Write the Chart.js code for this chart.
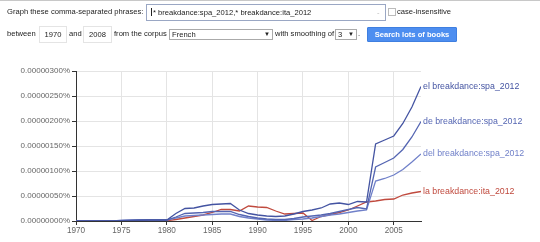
<!DOCTYPE html>
<html>
<head>
<meta charset="utf-8">
<script src="https://cdn.jsdelivr.net/npm/chart.js@4/dist/chart.umd.min.js"></script>
<style>
  html,body{margin:0;padding:0;background:#fff;}
  body{width:540px;height:242px;position:relative;overflow:hidden;font-family:"Liberation Sans",Arial,sans-serif;color:#222;}
  #wrap{position:absolute;left:0;top:0;width:540px;height:242px;}
  .t{position:absolute;font-size:7.6px;line-height:10px;white-space:nowrap;color:#222;}
  .box{position:absolute;border:1px solid #c8c8c8;background:#fff;box-sizing:border-box;font-size:7.6px;white-space:nowrap;}
  #topline{position:absolute;left:0;top:0;width:540px;height:1px;background:#c8c8c8;}
</style>
</head>
<body>
<div id="wrap"><canvas id="c" width="540" height="242"></canvas></div>
<div id="topline"></div>
<div class="t" style="left:7px;top:7px;">Graph these comma-separated phrases:</div>
<div class="box" style="left:146px;top:4px;width:240px;height:17px;border-color:#9aa7c4;line-height:15px;padding-left:4px;"><span style="display:inline-block;width:1px;height:8px;background:#222;vertical-align:-1px;margin-right:1px;"></span>* breakdance:spa_2012,* breakdance:ita_2012<span style="position:absolute;left:230px;top:0;color:#bbb;">-</span></div>
<div class="box" style="left:388px;top:8px;width:8px;height:8px;border-color:#bbb;"></div>
<div class="t" style="left:397px;top:7px;">case-insensitive</div>

<div class="t" style="left:7px;top:29px;">between</div>
<div class="box" style="left:39px;top:26px;width:28px;height:17px;border-color:#e4e4e4;line-height:15px;text-align:center;">1970</div>
<div class="t" style="left:69px;top:29px;">and</div>
<div class="box" style="left:83px;top:26px;width:29px;height:17px;border-color:#e4e4e4;line-height:15px;text-align:center;">2008</div>
<div class="t" style="left:114px;top:29px;">from the corpus</div>
<div class="box" style="left:169px;top:29px;width:104px;height:11px;border-color:#aaa;line-height:9px;padding-left:2px;">French<span style="position:absolute;left:94px;top:0;font-size:6px;">&#9660;</span></div>
<div class="t" style="left:275px;top:29px;">with smoothing of</div>
<div class="box" style="left:335px;top:29px;width:22px;height:11px;border-color:#aaa;line-height:9px;padding-left:2px;">3<span style="position:absolute;left:12px;top:0;font-size:6px;">&#9660;</span></div>
<div class="t" style="left:358px;top:29px;">.</div>
<div style="position:absolute;left:367px;top:27px;width:90px;height:15px;background:#4d8ef0;border:1px solid #3f7fe0;box-sizing:border-box;border-radius:1px;color:#fff;font-weight:bold;font-size:7.6px;line-height:13px;text-align:center;">Search lots of books</div>

<script>
// Data (values in units of 1e-8 %)
const years = [1970,1971,1972,1973,1974,1975,1976,1977,1978,1979,1980,1981,1982,1983,1984,1985,1986,1987,1988,1989,1990,1991,1992,1993,1994,1995,1996,1997,1998,1999,2000,2001,2002,2003,2004,2005,2006,2007,2008];
const seriesNames = ["el breakdance:spa_2012","de breakdance:spa_2012","del breakdance:spa_2012","la breakdance:ita_2012"];
const elValues  = [0,0,0,0,0,0.5,1,1.5,2,2,2,15,25,26,30,33,34,35,22,15,12,10,9,10,14,19,22,26,34,36,33,39,38,154,162,170,195,228,269];
const deValues  = [0,0,0,0,0,1,1.5,2,2,2,2,8,15,16,17,19,19,19,13,9,6,4,3,3,5,8,10,12,15,19,23,27,24,108,117,126,143,168,199];
const delValues = [0,0,0,0,0,1,1.5,2,2,2,2,6,10,11,12,13,14,14,9,6,4,2,1,1,3,4,6,9,12,14,17,20,22,80,85,92,103,118,134];
const laValues  = [0,0,0,0,0,0,0,0.5,0.5,0.5,0.5,3,6,9,12,17,23,23,20,30,28,27,20,14,15,16,1,9,13,17,22,30,38,40,43,44,52,56,59];
const yTicks = [0,50,100,150,200,250,300];
const colors = ["#4454a2","#5465b2","#7080c9","#c04a3e"];

const allValues = [elValues, deValues, delValues, laValues];
const datasets = seriesNames.map((name,i)=>({
  label: name,
  data: years.map((y,j)=>({x:y, y: allValues[i][j]})),
  borderColor: colors[i],
  backgroundColor: colors[i],
  borderWidth: 1.3,
  pointRadius: 0,
  tension: 0,
  fill: false,
  order: i + 1
}));

const endLabels = {
  id: 'endLabels',
  afterDatasetsDraw(chart){
    const ctx = chart.ctx;
    ctx.save();
    ctx.font = '8.8px "Liberation Sans", Arial, sans-serif';
    ctx.textBaseline = 'middle';
    ctx.textAlign = 'left';
    chart.data.datasets.forEach((ds,i)=>{
      const meta = chart.getDatasetMeta(i);
      const pt = meta.data[meta.data.length-1];
      ctx.fillStyle = ds.borderColor;
      ctx.fillText(ds.label, pt.x + 2, pt.y);
    });
    ctx.restore();
  }
};

new Chart(document.getElementById('c'), {
  type: 'line',
  data: { datasets },
  plugins: [endLabels],
  options: {
    responsive: false,
    animation: false,
    events: [],
    layout: { padding: { left: 0, right: 119, top: 71, bottom: 0 } },
    plugins: { legend: { display: false }, tooltip: { enabled: false } },
    scales: {
      x: {
        type: 'linear', min: 1970, max: 2008,
        afterFit(s){ s.height = 21; },
        ticks: { stepSize: 5, includeBounds: false, autoSkip: false, maxRotation: 0,
                 padding: 1, color: '#666', font: { family: '"Liberation Sans", Arial, sans-serif', size: 8.2 },
                 callback: v => String(v) },
        grid: { color: '#e4e4e4', tickColor: '#333', tickLength: 4, drawOnChartArea: true },
        border: { color: '#333', width: 1 }
      },
      y: {
        min: 0, max: 300,
        afterFit(s){ s.width = 76; },
        afterBuildTicks(s){ s.ticks = yTicks.map(v=>({value:v})); },
        ticks: { padding: 2, color: '#666', font: { family: '"Liberation Sans", Arial, sans-serif', size: 8 },
                 callback: v => (v/1e8).toFixed(8) + '%' },
        grid: { color: '#e4e4e4', tickColor: '#333', tickLength: 4 },
        border: { color: '#333', width: 1 }
      }
    }
  }
});
</script>
</body>
</html>
